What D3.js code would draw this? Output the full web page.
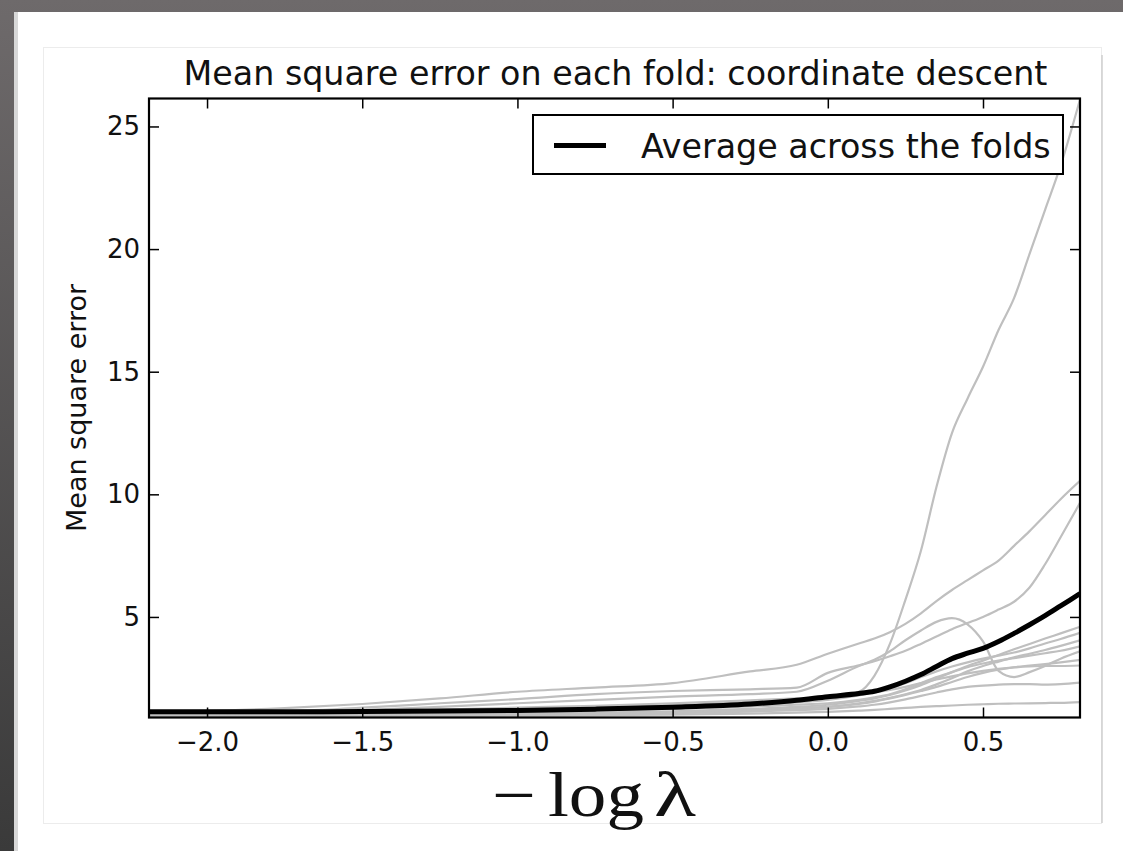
<!DOCTYPE html>
<html>
<head>
<meta charset="utf-8">
<script src="https://cdn.jsdelivr.net/npm/d3@7"></script>
<style>
  body { margin: 0; background: #fff; }
  svg { display: block; }
  text { font-family: "DejaVu Sans", sans-serif; fill: #111; }
</style>
</head>
<body>
<div id="chart"></div>
<script>
// -log(lambda) grid shared by every fold
var xValues = [-2.187, -2.0, -1.75, -1.5, -1.25, -1.0, -0.75, -0.5, -0.25, -0.1, 0.0, 0.1, 0.15, 0.2,
               0.25, 0.3, 0.35, 0.4, 0.45, 0.5, 0.55, 0.6, 0.65, 0.7, 0.75, 0.8125];

// mean square error for each fold (grey lines)
var foldA = [1.10,1.10,1.12,1.15,1.20,1.25,1.30,1.40,1.55,1.65,1.75,1.95,2.60,3.90,5.70,7.70,10.3,12.5,13.9,15.2,16.7,18.0,19.8,21.6,23.4,26.1];
var foldB = [1.15,1.17,1.28,1.45,1.68,1.95,2.12,2.30,2.78,3.05,3.50,3.92,4.12,4.38,4.72,5.15,5.65,6.10,6.50,6.90,7.30,7.90,8.50,9.15,9.80,10.55];
var foldC = [1.05,1.07,1.15,1.30,1.48,1.65,1.85,1.98,2.05,2.12,2.72,3.03,3.20,3.40,3.62,3.90,4.20,4.50,4.75,5.00,5.30,5.62,6.20,7.15,8.25,9.65];
var foldD = [1.00,1.02,1.08,1.20,1.33,1.48,1.62,1.75,1.85,1.95,2.40,3.00,3.25,3.60,4.05,4.45,4.80,4.95,4.70,4.00,2.80,2.55,2.75,3.00,3.30,3.60];
var foldE = [0.98,0.98,1.00,1.02,1.04,1.07,1.10,1.15,1.25,1.33,1.42,1.58,1.68,1.82,2.00,2.22,2.48,2.75,3.00,3.22,3.45,3.68,3.90,4.12,4.33,4.60];
var foldF = [1.02,1.03,1.05,1.08,1.12,1.16,1.22,1.30,1.42,1.52,1.62,1.80,1.92,2.08,2.30,2.55,2.78,2.98,3.15,3.30,3.42,3.55,3.72,3.92,4.10,4.35];
var foldG = [0.95,0.95,0.96,0.98,1.00,1.03,1.06,1.10,1.18,1.26,1.33,1.48,1.58,1.70,1.85,2.02,2.25,2.50,2.78,3.00,3.18,3.35,3.50,3.65,3.82,4.05];
var foldH = [1.00,1.00,1.02,1.05,1.08,1.12,1.18,1.25,1.35,1.42,1.48,1.62,1.72,1.85,2.05,2.30,2.55,2.75,2.95,3.10,3.22,3.32,3.42,3.52,3.62,3.80];
var foldI = [0.97,0.97,0.98,1.00,1.02,1.05,1.08,1.12,1.20,1.27,1.33,1.45,1.55,1.68,1.82,1.98,2.15,2.35,2.55,2.72,2.85,2.95,3.02,3.08,3.15,3.25];
var foldJ = [1.03,1.04,1.08,1.14,1.22,1.30,1.38,1.48,1.60,1.68,1.75,1.85,1.92,2.02,2.15,2.30,2.45,2.58,2.70,2.80,2.88,2.94,2.98,3.00,3.00,3.02];
var foldK = [0.96,0.96,0.97,0.98,1.00,1.02,1.05,1.08,1.14,1.20,1.25,1.35,1.42,1.52,1.64,1.78,1.92,2.05,2.15,2.20,2.24,2.26,2.26,2.24,2.26,2.32];
var foldL = [0.92,0.92,0.93,0.94,0.96,0.98,1.00,1.02,1.06,1.10,1.13,1.18,1.21,1.25,1.29,1.33,1.36,1.39,1.42,1.44,1.46,1.47,1.48,1.49,1.50,1.53];

// average across the folds (black line)
var average = [1.13,1.13,1.135,1.14,1.16,1.19,1.24,1.32,1.45,1.60,1.75,1.88,1.97,2.15,2.38,2.65,2.98,3.30,3.52,3.72,4.00,4.33,4.68,5.05,5.45,5.95];

var xTicks = [-2.0, -1.5, -1.0, -0.5, 0.0, 0.5];
var yTicks = [5, 10, 15, 20, 25];

var titleText = "Mean square error on each fold: coordinate descent";
var yLabelText = "Mean square error";
var legendText = "Average across the folds";

var folds = [foldA, foldB, foldC, foldD, foldE, foldF, foldG, foldH, foldI, foldJ, foldK, foldL];

var svgWidth = 1123;
var svgHeight = 851;

var margin = { top: 98.5, right: 43, bottom: 133.5, left: 149 };
var width = svgWidth - margin.left - margin.right;
var height = svgHeight - margin.top - margin.bottom;

var svg = d3.select("#chart")
    .append("svg")
    .attr("width", svgWidth)
    .attr("height", svgHeight);

// slide frame behind the figure
var defs = svg.append("defs");
var grad = defs.append("linearGradient")
    .attr("id", "frame")
    .attr("x1", 0).attr("y1", 0).attr("x2", 0).attr("y2", 1);
grad.append("stop").attr("offset", "0%").attr("stop-color", "#6e6a6b");
grad.append("stop").attr("offset", "100%").attr("stop-color", "#3a3a3a");

svg.append("rect")
    .attr("width", svgWidth).attr("height", svgHeight)
    .attr("fill", "url(#frame)");
svg.append("rect")
    .attr("x", 14).attr("y", 12)
    .attr("width", svgWidth - 14).attr("height", svgHeight - 12)
    .attr("fill", "#ffffff");
svg.append("rect")
    .attr("x", 14).attr("y", 12)
    .attr("width", 4).attr("height", svgHeight - 12)
    .attr("fill", "#d8d8d8");
svg.append("rect")
    .attr("x", 43.5).attr("y", 47.5)
    .attr("width", 1058).attr("height", 776)
    .attr("fill", "none")
    .attr("stroke", "#ececec");
svg.append("line")
    .attr("x1", 1102).attr("x2", 1102)
    .attr("y1", 55).attr("y2", 823)
    .attr("stroke", "#cfcfcf").attr("stroke-width", 1.5);

var chartGroup = svg.append("g")
    .attr("transform", `translate(${margin.left}, ${margin.top})`);

var xScale = d3.scaleLinear()
    .domain([-2.187, 0.8125])
    .range([0, width]);

var yScale = d3.scaleLinear()
    .domain([0.9, 26.14])
    .range([height, 0]);

defs.append("clipPath")
    .attr("id", "plotClip")
    .append("rect")
    .attr("width", width).attr("height", height);

var line = d3.line()
    .x((d, i) => xScale(xValues[i]))
    .y(d => yScale(d))
    .curve(d3.curveMonotoneX);

var lines = chartGroup.append("g").attr("clip-path", "url(#plotClip)");

lines.selectAll(".fold")
    .data(folds)
    .enter()
    .append("path")
    .attr("class", "fold")
    .attr("d", line)
    .attr("fill", "none")
    .attr("stroke", "#bfbfbf")
    .attr("stroke-width", 2.2);

lines.append("path")
    .datum(average)
    .attr("d", line)
    .attr("fill", "none")
    .attr("stroke", "#000")
    .attr("stroke-width", 5)
    .attr("stroke-linejoin", "round");

// axes, ticks pointing inward on all four sides
var fmtX = d3.format(".1f");

var xAxis = chartGroup.append("g")
    .attr("transform", `translate(0, ${height})`)
    .call(d3.axisBottom(xScale).tickValues(xTicks).tickFormat(fmtX).tickSize(-10).tickPadding(15));
var xAxisTop = chartGroup.append("g")
    .call(d3.axisTop(xScale).tickValues(xTicks).tickFormat("").tickSize(-10));
var yAxis = chartGroup.append("g")
    .call(d3.axisLeft(yScale).tickValues(yTicks).tickFormat(d3.format("d")).tickSize(-10).tickPadding(9));
var yAxisRight = chartGroup.append("g")
    .attr("transform", `translate(${width}, 0)`)
    .call(d3.axisRight(yScale).tickValues(yTicks).tickFormat("").tickSize(-10));

[xAxis, xAxisTop, yAxis, yAxisRight].forEach(function(ax) {
    ax.select(".domain").remove();
    ax.selectAll(".tick line").attr("stroke", "#000").attr("stroke-width", 1.5);
    ax.selectAll("text")
        .attr("font-family", "DejaVu Sans, sans-serif")
        .attr("font-size", "26px")
        .attr("fill", "#111");
});

chartGroup.append("rect")
    .attr("width", width).attr("height", height)
    .attr("fill", "none")
    .attr("stroke", "#000")
    .attr("stroke-width", 2.2);

// title
chartGroup.append("text")
    .attr("x", width / 2 + 1)
    .attr("y", 85 - margin.top)
    .attr("text-anchor", "middle")
    .attr("font-size", "33.3px")
    .text(titleText);

// y axis label
chartGroup.append("text")
    .attr("transform", `translate(${86 - margin.left}, ${height / 2}) rotate(-90)`)
    .attr("text-anchor", "middle")
    .attr("font-size", "27px")
    .text(yLabelText);

// x axis label, -log lambda in a serif face
var xLabel = svg.append("text")
    .attr("y", 816)
    .attr("font-size", "63px")
    .style("font-family", "'Liberation Serif', serif");
xLabel.append("tspan").attr("x", 492)
    .attr("textLength", 44).attr("lengthAdjust", "spacingAndGlyphs").text("\u2212");
xLabel.append("tspan").attr("x", 548)
    .attr("textLength", 96).attr("lengthAdjust", "spacingAndGlyphs").text("log");
xLabel.append("tspan").attr("x", 654)
    .attr("textLength", 42).attr("lengthAdjust", "spacingAndGlyphs").text("\u03bb");

// legend
var legend = svg.append("g");
legend.append("rect")
    .attr("x", 533).attr("y", 115)
    .attr("width", 530).attr("height", 59)
    .attr("fill", "#fff")
    .attr("stroke", "#000")
    .attr("stroke-width", 2);
legend.append("line")
    .attr("x1", 554).attr("x2", 606)
    .attr("y1", 145.5).attr("y2", 145.5)
    .attr("stroke", "#000")
    .attr("stroke-width", 5);
legend.append("text")
    .attr("x", 641)
    .attr("y", 157.5)
    .attr("font-size", "33.3px")
    .text(legendText);
</script>
</body>
</html>
